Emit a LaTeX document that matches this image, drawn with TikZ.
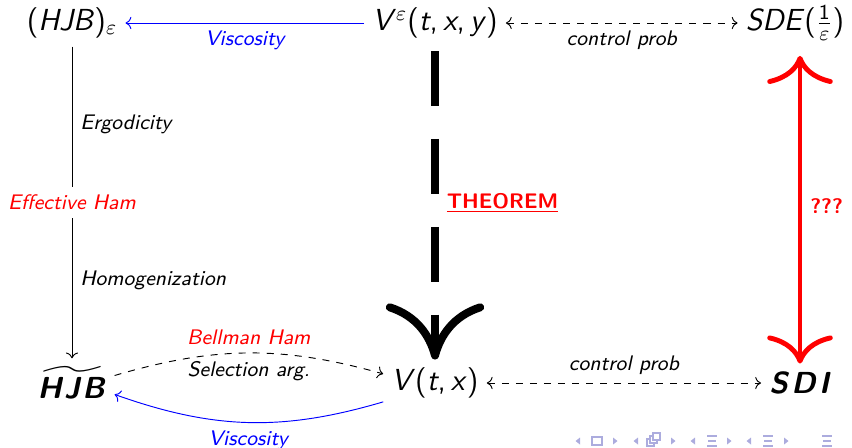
\documentclass[tikz,border=0pt]{standalone}
\usepackage{amsmath,amssymb}
\usepackage{tikz}
\usetikzlibrary{arrows.meta}
\newcommand{\sfi}[1]{\textit{#1}}
\newcommand{\sfbi}[1]{\textbf{\textit{#1}}}
\definecolor{navblue}{RGB}{172,172,222}

\begin{document}
\begin{tikzpicture}[x=0.4272pt,y=-0.4272pt,
  every node/.style={font=\sffamily\fontsize{13}{15}\selectfont},
  lbl/.style={font=\sffamily\small\itshape},
  bigtip/.style={line width=3.4pt,dash pattern=on 23.5pt off 14pt,-{To[length=24pt,width=42pt]}},
  redtip/.style={red,line width=2.1pt,{To[length=12pt,width=28pt]}-{To[length=12pt,width=28pt]}}]
  \useasboundingbox (0,0) rectangle (852,447);

  % the six objects
  \node (hjbe) at (72,23) {(\sfi{HJB})$_\varepsilon$};
  \node (veps) at (435,23) {\sfi{V}$^\varepsilon$(\sfi{t},\,\sfi{x},\,\sfi{y})};
  \node (sde) at (795,23) {\sfi{SDE}($\tfrac{\text{1}}{\varepsilon}$)};
  \node (hjbt) at (72,383) {$\widetilde{\text{\sfbi{H\kern1pt J\kern1pt B}}}$};
  \node (vtx) at (435,383) {\sfi{V}(\sfi{t},\,\sfi{x})};
  \node (sdi) at (800,383) {\sfbi{S\kern1.5pt D\kern1.5pt I}};
  \coordinate (sdetop) at (sde.south -| sdi);

  % top row
  \draw[blue,->] (veps) -- (hjbe) node[midway,below,lbl,text=blue] {Viscosity};
  \draw[dashed,<->] (veps) -- (sde) node[midway,below,lbl] {control prob};

  % left column
  \draw[->] (hjbe) -- (hjbt)
    node[pos=0.25,right,lbl] {Ergodicity}
    node[midway,fill=white,lbl,text=red] {Effective Ham}
    node[pos=0.75,right,lbl] {Homogenization};

  % bottom row
  \draw[dashed,->] (hjbt.10) to[bend left=16]
    node[above,lbl,text=red] {Bellman Ham}
    node[below,lbl] {Selection arg.} (vtx.170);
  \draw[blue,->] (vtx.200) to[bend left=18] node[below,lbl,text=blue] {Viscosity} (hjbt.-15);
  \draw[dashed,<->] (vtx) -- (sdi) node[midway,above,lbl] {control prob};

  % theorem and open question
  \draw[bigtip,shorten <=2pt] (veps) -- (vtx)
    node[midway,right,font=\sffamily\small\bfseries,text=red] {\underline{THEOREM}};
  \draw[redtip,shorten <=3pt] (sdetop) -- (sdi)
    node[midway,right,font=\sffamily\small\bfseries,text=red] {???};

  % navigation symbols
  \foreach \x in {578,636,693,749}
    \fill[navblue] (\x+2,437.5) -- (\x-2.5,441) -- (\x+2,444.5) -- cycle;
  \foreach \x in {615,673,729,786}
    \fill[navblue] (\x-2,437.5) -- (\x+2.5,441) -- (\x-2,444.5) -- cycle;
  \draw[navblue,line width=0.7pt] (592,437) rectangle (602,445);
  \foreach \d in {0,3,6}
    \draw[navblue,line width=0.6pt,fill=white] (647+\d,439-\d) rectangle (654+\d,446-\d);
  \foreach \x in {712,768,827} {
    \draw[navblue,line width=0.7pt] (\x-5,436) -- (\x+5,436);
    \draw[navblue,line width=0.7pt] (\x-4,441) -- (\x+4,441);
    \draw[navblue,line width=0.7pt] (\x-5,446) -- (\x+5,446);
  }
\end{tikzpicture}
\end{document}
